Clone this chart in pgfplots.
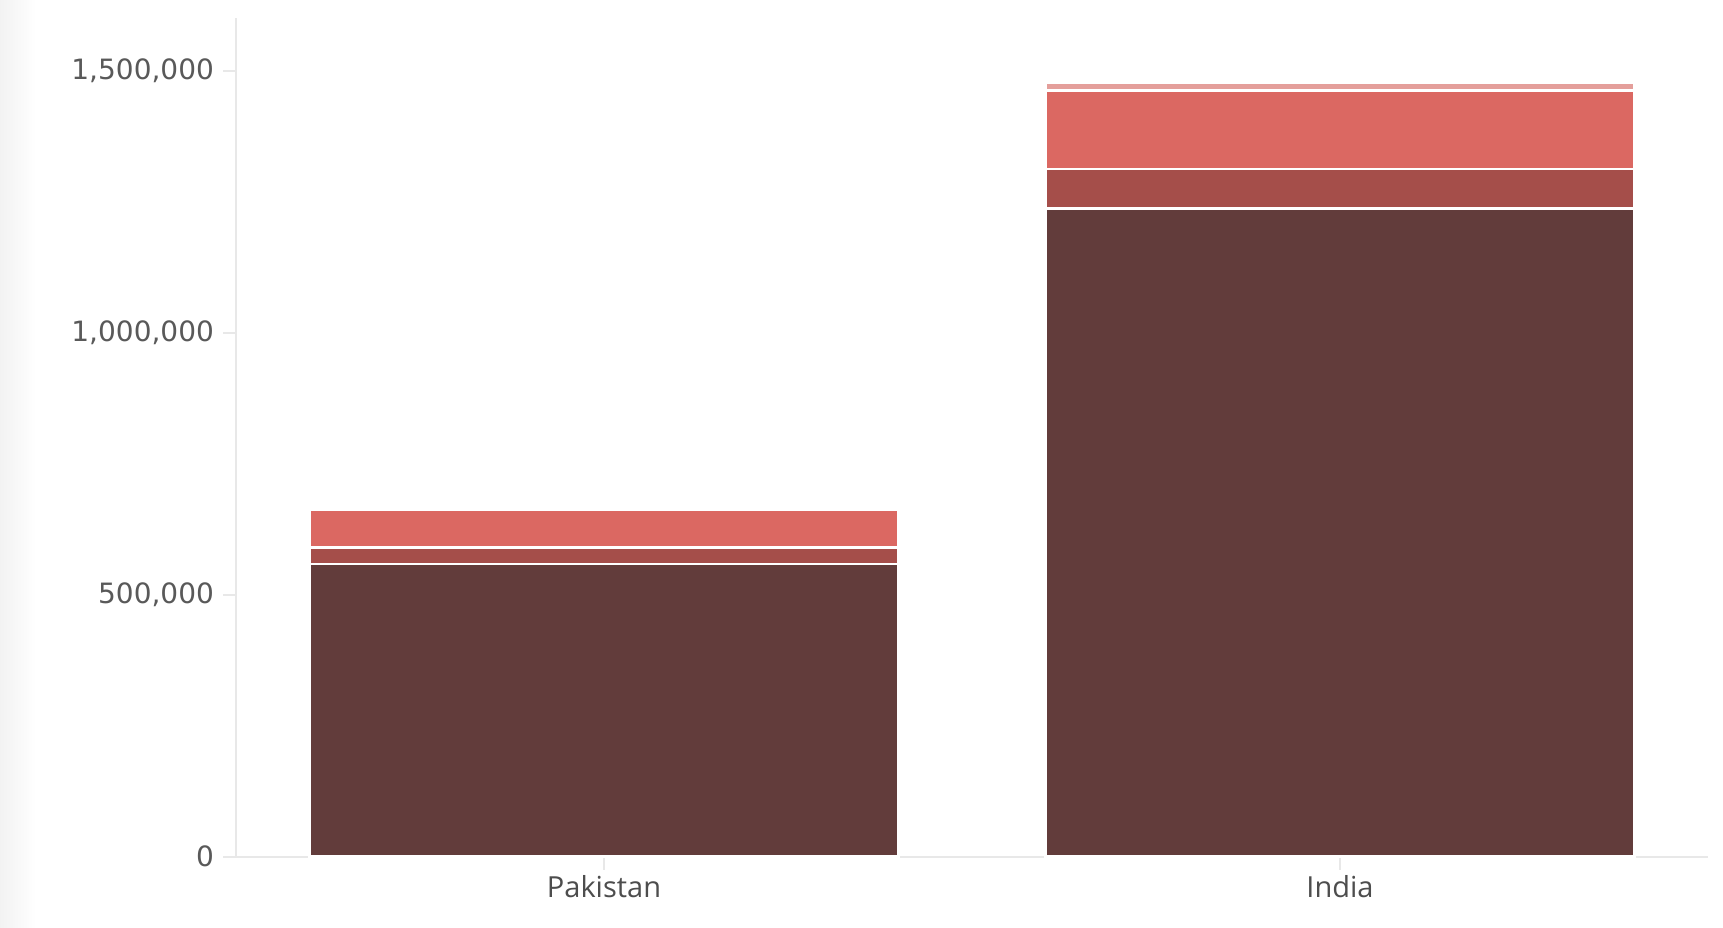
\documentclass[border=0pt]{standalone}
\usepackage{pgfplots}
\pgfplotsset{compat=1.18}
\usepackage{fontspec}
\setmainfont{Open Sans}
\newfontfamily\numfont{DejaVu Sans}
\definecolor{barA}{HTML}{623C3B}
\definecolor{barB}{HTML}{A54E4A}
\definecolor{barC}{HTML}{DB6862}
\definecolor{barD}{HTML}{E49F9B}
\definecolor{axisgrey}{HTML}{E8E8E8}
\definecolor{labelgrey}{HTML}{4D4D4D}
\begin{document}
\begin{tikzpicture}
\useasboundingbox (-118pt,-35.2pt) rectangle (743.5pt,428.3pt);
\fill[left color=black!5, right color=white] (-118pt,-35.2pt) rectangle (-100pt,428.3pt);
\begin{axis}[
    scale only axis,
    width=736pt, height=419.2pt,
    ybar stacked,
    bar width=0.8,
    xmin=-0.5, xmax=1.5,
    ymin=0, ymax=1600000,
    xtick={0,1},
    xticklabels={Pakistan,India},
    ytick={0,500000,1000000,1500000},
    scaled y ticks=false,
    /pgf/number format/.cd, fixed, 1000 sep={,}, assume math mode=true,
    /pgfplots/.cd,
    axis x line*=bottom,
    axis y line*=left,
    axis line style={axisgrey, line width=1pt},
    tick style={axisgrey, line width=1pt},
    tick align=outside,
    major tick length=6.5pt,
    ticklabel style={font=\fontsize{14.5}{17}\selectfont, text=labelgrey},
    every x tick label/.append style={yshift=0.5pt},
    every y tick label/.append style={xshift=-1pt, text=black!65, font=\numfont\fontsize{14}{17}\selectfont},
    every outer x axis line/.append style={-},
    every outer y axis line/.append style={-},
    clip=false,
]
\addplot[fill=barA, draw=white, line width=1.2pt] coordinates {(0,558000) (1,1237000)};
\addplot[fill=barB, draw=white, line width=1.2pt] coordinates {(0,32000) (1,75000)};
\addplot[fill=barC, draw=white, line width=1.2pt] coordinates {(0,72000) (1,150000)};
\addplot[fill=barD, draw=white, line width=1.2pt] coordinates {(0,0) (1,15000)};
\end{axis}
\end{tikzpicture}
\end{document}
